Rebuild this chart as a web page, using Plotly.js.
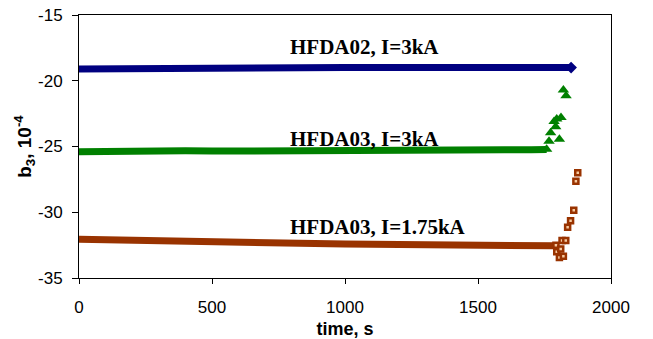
<!DOCTYPE html>
<html>
<head>
<meta charset="utf-8">
<script src="https://cdn.plot.ly/plotly-3.0.1.min.js"></script>
<style>
  html, body { margin: 0; padding: 0; background: #ffffff; }
  #chart { width: 653px; height: 339px; }
</style>
</head>
<body>
<div id="chart"></div>
<script>
// HFDA02, I=3kA : steady run, time in s, b3 in units of 1e-4
const hfda02Time = [0, 100, 200, 300, 400, 500, 600, 700, 800, 900, 1000, 1100, 1200, 1300, 1400, 1500, 1600, 1700, 1800, 1850];
const hfda02B3   = [-19.1, -19.08, -19.05, -19.05, -19.02, -19.05, -19.0, -19.02, -19.0, -19.03, -19.0, -19.0, -19.02, -19.0, -19.0, -19.0, -18.98, -19.0, -19.0, -19.0];

// HFDA03, I=3kA : steady part, then the scattered readings near the end
const hfda03HiTime = [0, 100, 200, 300, 400, 500, 600, 700, 800, 900, 1000, 1100, 1200, 1300, 1400, 1500, 1600, 1700, 1758];
const hfda03HiB3   = [-25.4, -25.35, -25.33, -25.32, -25.33, -25.35, -25.33, -25.3, -25.3, -25.3, -25.3, -25.3, -25.28, -25.28, -25.27, -25.27, -25.25, -25.25, -25.22];
const hfda03HiTailTime = [1758, 1767, 1773, 1786, 1792, 1796, 1806, 1812, 1821, 1831];
const hfda03HiTailB3   = [-25.2, -24.6, -23.95, -23.1, -23.5, -22.9, -24.45, -22.8, -20.7, -21.15];

// HFDA03, I=1.75kA : slow drift, then the scattered readings near the end
const hfda03LoTime = [0, 100, 200, 300, 400, 500, 600, 700, 800, 900, 1000, 1100, 1200, 1300, 1400, 1500, 1600, 1700, 1785];
const hfda03LoB3   = [-32.05, -32.1, -32.15, -32.2, -32.25, -32.3, -32.33, -32.35, -32.38, -32.4, -32.42, -32.43, -32.45, -32.45, -32.47, -32.48, -32.5, -32.52, -32.55];
const hfda03LoTailTime = [1793, 1796, 1806, 1811, 1816, 1821, 1830, 1837, 1848, 1860, 1868, 1875];
const hfda03LoTailB3   = [-32.5, -33.0, -33.45, -32.8, -32.15, -33.35, -32.15, -31.15, -30.65, -29.85, -27.65, -27.0];

// Series captions
const captions = ["HFDA02, I=3kA", "HFDA03, I=3kA", "HFDA03, I=1.75kA"];
const captionTime = [785, 785, 785];
const captionB3 = [-17.45, -24.45, -31.1];

const xTicks = [0, 500, 1000, 1500, 2000];
const yTicks = [-35, -30, -25, -20, -15];

const navy = "#000080", green = "#008000", brown = "#993300";

const traces = [
  { x: hfda02Time, y: hfda02B3, mode: "lines", line: { color: navy, width: 7 } },
  { x: [hfda02Time[hfda02Time.length - 1]], y: [hfda02B3[hfda02B3.length - 1]], mode: "markers",
    marker: { symbol: "diamond", size: 9, color: navy } },
  { x: hfda03HiTime, y: hfda03HiB3, mode: "lines", line: { color: green, width: 7 } },
  { x: hfda03HiTailTime, y: hfda03HiTailB3, mode: "markers",
    marker: { symbol: "triangle-up", size: 10, color: green } },
  { x: hfda03LoTime, y: hfda03LoB3, mode: "lines", line: { color: brown, width: 7 } },
  { x: hfda03LoTailTime, y: hfda03LoTailB3, mode: "markers",
    marker: { symbol: "square", size: 5, color: "#f6caa0", line: { color: brown, width: 2.5 } } }
];

const annotations = captions.map((t, i) => ({
  x: captionTime[i], y: captionB3[i], xref: "x", yref: "y",
  text: t, showarrow: false, xanchor: "left", yanchor: "middle",
  font: { family: "Liberation Serif, Times New Roman, serif", size: 21, weight: "bold", color: "#000" }
}));

const layout = {
  width: 653, height: 339,
  margin: { l: 79, r: 42, t: 15, b: 61 },
  paper_bgcolor: "#ffffff", plot_bgcolor: "#ffffff",
  showlegend: false,
  font: { family: "Liberation Sans, Arial, sans-serif", size: 17, color: "#000" },
  xaxis: {
    range: [0, 2000], tickvals: xTicks, ticktext: xTicks.map(String),
    showgrid: false, zeroline: false,
    showline: true, linecolor: "#000", linewidth: 1, mirror: true,
    ticks: "outside", ticklen: 5, tickcolor: "#000",
    ticklabelstandoff: 9,
    title: { text: "time, s", font: { size: 18, weight: "bold" }, standoff: 8 }
  },
  yaxis: {
    range: [-35, -15], tickvals: yTicks, ticktext: yTicks.map(String),
    showgrid: false, zeroline: false,
    showline: true, linecolor: "#000", linewidth: 1, mirror: true,
    ticks: "outside", ticklen: 6, tickcolor: "#000",
    ticklabelstandoff: 6,
    title: { text: "b<sub>3</sub>, 10<sup>-4</sup>", font: { size: 19, weight: "bold" }, standoff: 1 }
  },
  annotations: annotations
};

Plotly.newPlot("chart", traces, layout, { staticPlot: true, displayModeBar: false });
</script>
</body>
</html>
